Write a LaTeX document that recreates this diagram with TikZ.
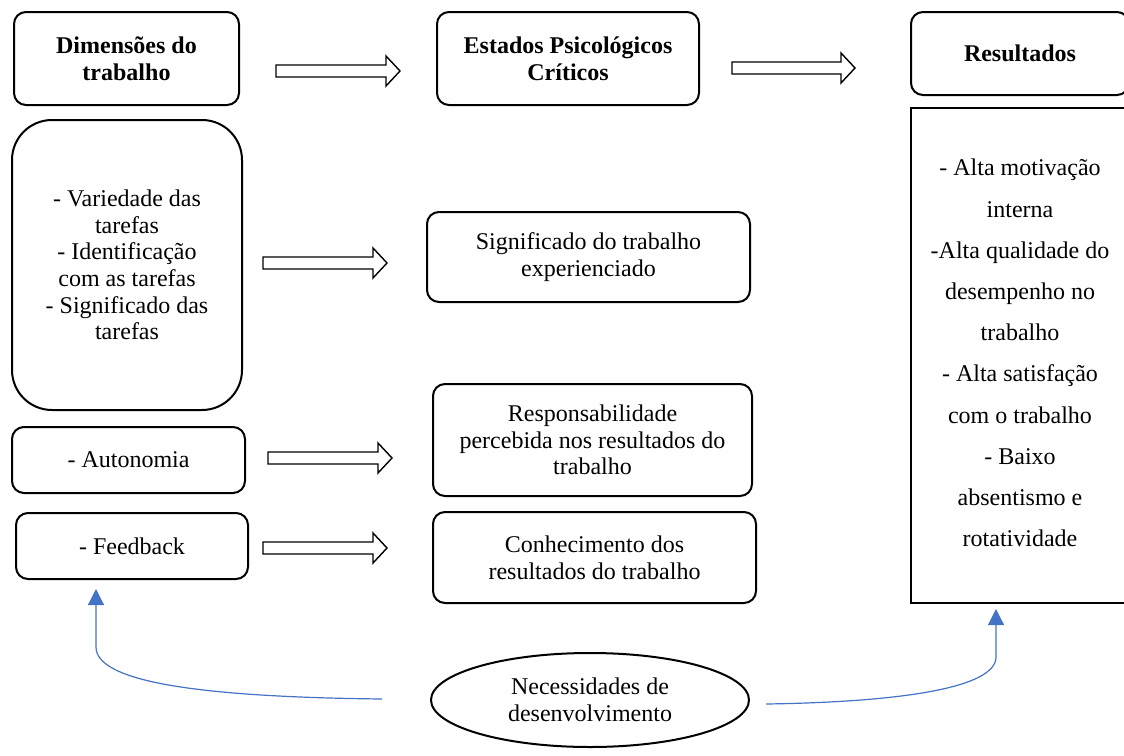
\documentclass[tikz,border=0pt]{standalone}
\usepackage{fontspec}
\setmainfont{Liberation Serif}
\usetikzlibrary{arrows.meta,shapes.geometric,calc}
\definecolor{conblue}{RGB}{68,114,196}
\begin{document}
\begin{tikzpicture}[x=0.5pt,y=-0.5pt,
  txt/.style={font=\fontsize{12}{13.3}\selectfont, align=center, inner sep=0pt},
  rbox/.style={txt, draw, line width=1pt, rounded corners=6pt},
  bigrbox/.style={txt, draw, line width=1pt, rounded corners=20pt},
  sqbox/.style={txt, draw, line width=1pt},
  ell/.style={txt, draw, line width=1pt, ellipse},
  blockarrow/.style={draw, line width=0.7pt, fill=white, line join=miter},
  blueconn/.style={draw=conblue, line width=0.6pt, -{Triangle[length=8pt,width=8pt]}, fill=none}
]
\useasboundingbox (0,0) rectangle (1124,755);
\clip (0,0) rectangle (1124,755);

\newcommand{\barrow}[3]{%
  \draw[blockarrow] (#1,#3-6) -- (#2-14,#3-6) -- (#2-14,#3-15) -- (#2,#3) -- (#2-14,#3+15) -- (#2-14,#3+6) -- (#1,#3+6) -- cycle;}

% Header boxes
\node[rbox, minimum width=112.5pt, minimum height=46.5pt] (dim) at (126.5,58.5) {\bfseries Dimensões do\\\bfseries trabalho};
\node[rbox, minimum width=131pt, minimum height=46.5pt] (est) at (568,58.5) {\bfseries Estados Psicológicos\\\bfseries Críticos};
\node[rbox, minimum width=109pt, minimum height=41.5pt] (res) at (1020,53.5) {\bfseries Resultados};

% Left column
\node[bigrbox, minimum width=115pt, minimum height=145pt] (var) at (127,265) {- Variedade das\\tarefas\\- Identificação\\com as tarefas\\- Significado das\\tarefas};
\node[rbox, minimum width=116.5pt, minimum height=33pt] (aut) at (128.5,460) {- Autonomia};
\node[rbox, minimum width=116pt, minimum height=33pt] (fb) at (132,546) {- Feedback};

% Middle column
\node[rbox, minimum width=161.5pt, minimum height=45pt] (sig) at (588.5,257) {Significado do trabalho\\experienciado};
\node[rbox, minimum width=159.5pt, minimum height=56pt] (resp) at (592.5,440) {Responsabilidade\\percebida nos resultados do\\trabalho};
\node[rbox, minimum width=161.5pt, minimum height=45.5pt] (con) at (594.5,557.5) {Conhecimento dos\\resultados do trabalho};

% Right results box
\node[sqbox, minimum width=109pt, minimum height=247.5pt] (out) at (1020,355.5) {};
\node[txt, font=\fontsize{12}{20.6}\selectfont, anchor=center] (outtxt) at (1020,353)
  {- Alta motivação\\interna\\-Alta qualidade do\\desempenho no\\trabalho\\- Alta satisfação\\com o trabalho\\- Baixo\\absentismo e\\rotatividade};

% Ellipse
\node[ell, minimum width=159pt, minimum height=47pt] (nec) at (590,700) {Necessidades de\\desenvolvimento};

% Block arrows
\barrow{276}{400}{71}
\barrow{732}{855}{68}
\barrow{263}{387}{263}
\barrow{268}{392}{458}
\barrow{263}{387}{548}

% Blue feedback connectors
\coordinate (lstart) at ($(nec.west)+(-48,-1)$);
\coordinate (lend) at ($(fb.south)+(-36,9)$);
\coordinate (rstart) at ($(nec.east)+(16,4)$);
\coordinate (rend) at ($(out.south)+(-24,5)$);
\draw[blueconn] (lstart) .. controls (200,697) and (96,682) .. (96,647) -- (lend);
\draw[blueconn] (rstart) .. controls (900,702) and (996,688) .. (996,657) -- (rend);
\end{tikzpicture}
\end{document}
